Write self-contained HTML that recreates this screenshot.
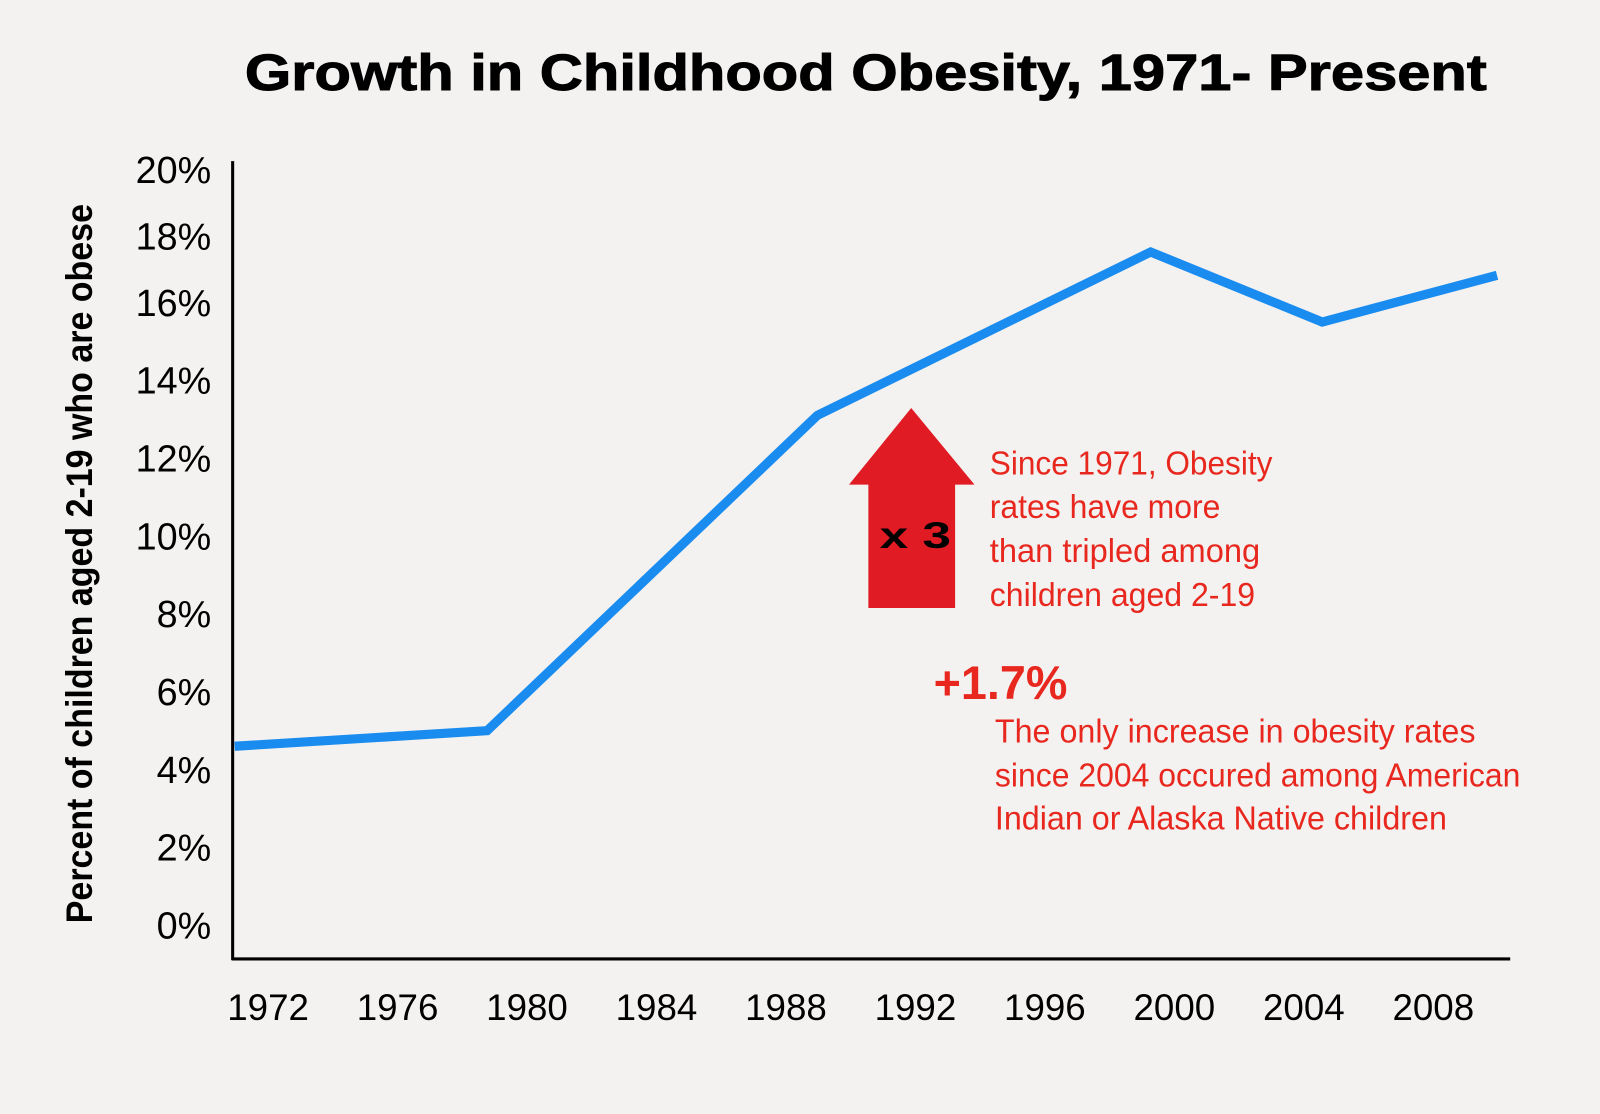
<!DOCTYPE html>
<html><head><meta charset="utf-8"><style>
html,body{margin:0;padding:0;background:#f3f2f1;}
svg{display:block;}
text{font-family:"Liberation Sans",sans-serif;}
</style></head><body>
<svg id="chart" width="1600" height="1114" viewBox="0 0 1568 1092" preserveAspectRatio="none" xmlns="http://www.w3.org/2000/svg">
<rect width="1568" height="1092" fill="#f3f2f1"/>
<text x="240" y="88" font-size="50" font-weight="bold" textLength="1217" lengthAdjust="spacingAndGlyphs" fill="#000" stroke="#000" stroke-width="1">Growth in Childhood Obesity, 1971- Present</text>
<text transform="translate(90,905) rotate(-90)" font-size="36" font-weight="bold" textLength="705" lengthAdjust="spacingAndGlyphs" fill="#000">Percent of children aged 2-19 who are obese</text>
<line x1="228" y1="158" x2="228" y2="941" stroke="#000" stroke-width="3"/>
<line x1="227" y1="940" x2="1480" y2="940" stroke="#000" stroke-width="3"/>
<g id="yticks"></g><g id="xticks"></g>
<polyline id="series" fill="none" stroke="#1a8cf0" stroke-width="9" stroke-linejoin="miter"/>
<g>
<polygon points="851,596 936,596 936,475 955,475 893,400 832,475 851,475" fill="#e01b24"/>
<text x="862" y="537" font-size="36" font-weight="bold" fill="#000" textLength="70" lengthAdjust="spacingAndGlyphs">x 3</text>
</g>
<g fill="#e8281e" font-size="33">
<text x="970" y="465" textLength="277" lengthAdjust="spacingAndGlyphs">Since 1971, Obesity</text>
<text x="970" y="508" textLength="226" lengthAdjust="spacingAndGlyphs">rates have more</text>
<text x="970" y="551" textLength="265" lengthAdjust="spacingAndGlyphs">than tripled among</text>
<text x="970" y="594" textLength="260" lengthAdjust="spacingAndGlyphs">children aged 2-19</text>
</g>
<text x="915" y="685" font-size="46" font-weight="bold" fill="#e8281e" textLength="131" lengthAdjust="spacingAndGlyphs">+1.7%</text>
<g fill="#e8281e" font-size="33">
<text x="975" y="728" textLength="471" lengthAdjust="spacingAndGlyphs">The only increase in obesity rates</text>
<text x="975" y="771" textLength="515" lengthAdjust="spacingAndGlyphs">since 2004 occured among American</text>
<text x="975" y="813" textLength="443" lengthAdjust="spacingAndGlyphs">Indian or Alaska Native children</text>
</g>
</svg>
<script>
const yTickValues = [0, 2, 4, 6, 8, 10, 12, 14, 16, 18, 20];
const xTickYears = [1972, 1976, 1980, 1984, 1988, 1992, 1996, 2000, 2004, 2008];
const seriesYears = [1971, 1978.8, 1989, 1999.3, 2004.6, 2010];
const seriesValues = [4.6, 5.0, 13.1, 17.3, 15.5, 16.7];

const NS = "http://www.w3.org/2000/svg";
function xScale(yr){ return 230 + (yr - 1971) * 31.72; }
function yScale(v){ return 907 - v * 38.15; }
function yLabelPos(v){
  return v <= 16 ? yScale(v) : yScale(16) - (v - 16) * 32.5;
}
const yt = document.getElementById('yticks');
yTickValues.forEach(v => {
  const t = document.createElementNS(NS, 'text');
  
  
  t.setAttribute('x', 207);
  t.setAttribute('y', yLabelPos(v) + 13);
  t.setAttribute('text-anchor', 'end');
  t.setAttribute('font-size', '37');
  t.textContent = v + '%';
  yt.appendChild(t);
});
const xt = document.getElementById('xticks');
xTickYears.forEach(yr => {
  const t = document.createElementNS(NS, 'text');
  
  
  t.setAttribute('x', xScale(yr) + 1);
  t.setAttribute('y', 1000);
  t.setAttribute('text-anchor', 'middle');
  t.setAttribute('font-size', '36');
  t.textContent = yr;
  xt.appendChild(t);
});
document.getElementById('series').setAttribute('points',
  seriesYears.map((yr, i) => xScale(yr) + ',' + yScale(seriesValues[i])).join(' '));
</script>
</body></html>
